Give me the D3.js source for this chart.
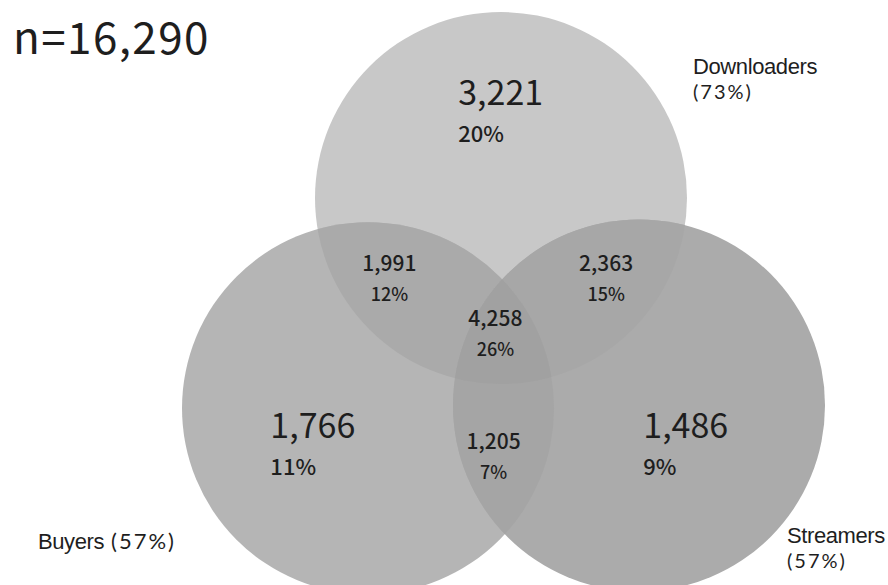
<!DOCTYPE html>
<html>
<head>
<meta charset="utf-8">
<script src="https://cdn.jsdelivr.net/npm/d3@7"></script>
<style>
  html, body { margin: 0; padding: 0; background: #fff; }
  svg { display: block; }
  .num { font-family: "Noto Sans CJK KR", "Noto Sans", sans-serif; fill: #1e1e1e; }
  .setname { font-family: "Liberation Sans", Arial, sans-serif; fill: #1e1e1e; letter-spacing: -0.4px; }
  .setshare { font-family: Lato, "Noto Sans", sans-serif; fill: #1e1e1e; letter-spacing: 2px; }
</style>
</head>
<body>
<svg id="chart" width="888" height="585"></svg>
<script>
// Survey base
const total = 16290;

// Sets
const setKeys = ["D", "B", "S"];
const setNames = ["Downloaders", "Buyers", "Streamers"];
const setShares = [73, 57, 57];

// Exclusive regions of the diagram
const regionKeys = ["D", "B", "S", "DB", "DS", "BS", "DBS"];
const regionCounts = [3221, 1766, 1486, 1991, 2363, 1205, 4258];
const regionShares = [20, 11, 9, 12, 15, 7, 26];

// Layout (unit space: circle radius = 1)
const circleLayout = {
  D: { x: 0.0, y: 0.0 },
  B: { x: -0.715, y: 1.13 },
  S: { x: 0.742, y: 1.115 }
};
const regionLayout = {
  D:   { x: -0.23, y: -0.50, big: true,  anchor: "start" },
  B:   { x: -1.24, y: 1.29,  big: true,  anchor: "start" },
  S:   { x: 0.765, y: 1.29,  big: true,  anchor: "start" },
  DB:  { x: -0.6,  y: 0.39,  big: false, anchor: "middle" },
  DS:  { x: 0.565, y: 0.39,  big: false, anchor: "middle" },
  BS:  { x: -0.04, y: 1.35,  big: false, anchor: "middle" },
  DBS: { x: -0.03, y: 0.69,  big: false, anchor: "middle" }
};
const regionFill = {
  D: "#c8c8c8", B: "#b5b5b5", S: "#ababab",
  DB: "#aaaaaa", DS: "#a7a7a7", BS: "#a5a5a5", DBS: "#a1a1a1"
};

const R = 186;
const x = d3.scaleLinear().domain([0, 1]).range([501, 501 + R]);
const y = d3.scaleLinear().domain([0, 1]).range([198, 198 + R]);
const rPx = x(1) - x(0);

const svg = d3.select("#chart");
const defs = svg.append("defs");

setKeys.forEach(k => {
  defs.append("clipPath").attr("id", "clip-" + k)
    .append("circle")
    .attr("cx", x(circleLayout[k].x))
    .attr("cy", y(circleLayout[k].y))
    .attr("r", rPx);
});

const g = svg.append("g");

// Base circles
setKeys.forEach(k => {
  g.append("circle")
    .attr("cx", x(circleLayout[k].x))
    .attr("cy", y(circleLayout[k].y))
    .attr("r", rPx)
    .attr("fill", regionFill[k]);
});

// Overlaps: draw the second circle clipped by the first
function overlap(a, b, fill, clipExtra) {
  let sel = g.append("g").attr("clip-path", "url(#clip-" + a + ")");
  if (clipExtra) sel = sel.append("g").attr("clip-path", "url(#clip-" + clipExtra + ")");
  sel.append("circle")
    .attr("cx", x(circleLayout[b].x))
    .attr("cy", y(circleLayout[b].y))
    .attr("r", rPx)
    .attr("fill", fill);
}
overlap("D", "B", regionFill.DB);
overlap("D", "S", regionFill.DS);
overlap("B", "S", regionFill.BS);
overlap("D", "B", regionFill.DBS, "S");

// Region labels
const fmt = d3.format(",");
regionKeys.forEach((k, i) => {
  const L = regionLayout[k];
  const big = L.big;
  const t = g.append("text")
    .attr("class", "num")
    .attr("text-anchor", L.anchor)
    .attr("x", x(L.x))
    .attr("y", y(L.y));
  t.append("tspan")
    .attr("font-size", big ? 34 : 21)
    .attr("font-weight", big ? 400 : 500)
    .text(fmt(regionCounts[i]));
  t.append("tspan")
    .attr("x", x(L.x))
    .attr("dy", big ? 37 : 30)
    .attr("font-size", big ? 22 : 18)
    .attr("font-weight", 500)
    .text(regionShares[i] + "%");
});

// Sample size
svg.append("text")
  .attr("class", "num")
  .attr("x", 13)
  .attr("y", 54)
  .attr("font-size", 44)
  .attr("letter-spacing", 1.4)
  .text("n=" + fmt(total));

// Set names with shares
const setLabelPos = {
  D: { x: 693, y: 74, twoLines: true },
  B: { x: 38, y: 549, twoLines: false },
  S: { x: 787, y: 543, twoLines: true }
};
setKeys.forEach((k, i) => {
  const P = setLabelPos[k];
  const share = "(" + setShares[i] + "%)";
  const name = svg.append("text")
    .attr("class", "setname")
    .attr("x", P.x).attr("y", P.y)
    .attr("font-size", 22)
    .text(setNames[i]);
  if (P.twoLines) {
    svg.append("text").attr("class", "setshare")
      .attr("x", P.x).attr("y", P.y + 25)
      .attr("font-size", 20).text(share);
  } else {
    const w = name.node().getComputedTextLength();
    svg.append("text").attr("class", "setshare")
      .attr("x", P.x + w + 7).attr("y", P.y)
      .attr("font-size", 22).text(share);
  }
});
</script>
</body>
</html>
